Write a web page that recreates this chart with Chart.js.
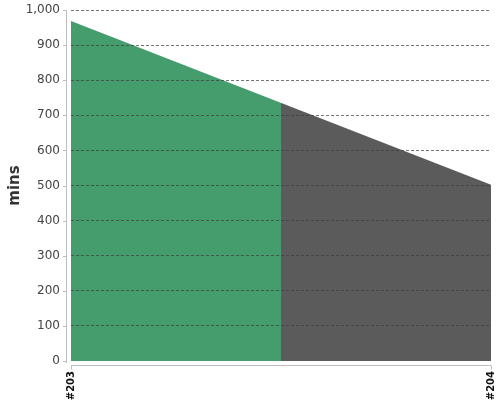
<!DOCTYPE html>
<html>
<head>
<meta charset="utf-8">
<style>
  html, body { margin: 0; padding: 0; background: #fff; }
  #wrap { width: 500px; height: 400px; }
</style>
<script src="https://cdn.jsdelivr.net/npm/chart.js@4/dist/chart.umd.min.js"></script>
</head>
<body>
<div id="wrap"><canvas id="areaChart"></canvas></div>
<script>
// Build labels along the x axis
const buildLabels = ['#203', '#204'];

// Build duration in minutes
const buildMinutes = [969, 502];

// Fill colours, left half / right half
const fillColors = ['#459c6c', '#5b5b5b'];

// Split the fill colour at the middle of the plot
function splitFill(context) {
    const chart = context.chart;
    const area = chart.chartArea;
    if (!area) return fillColors[0];
    const g = chart.ctx.createLinearGradient(area.left, 0, area.right, 0);
    g.addColorStop(0, fillColors[0]);
    g.addColorStop(0.5, fillColors[0]);
    g.addColorStop(0.5, fillColors[1]);
    g.addColorStop(1, fillColors[1]);
    return g;
}

// Axis lines sit a few pixels away from the plot, like the original
const axisFrame = {
    id: 'axisFrame',
    afterDraw(chart) {
        const ctx = chart.ctx;
        const area = chart.chartArea;
        const xs = chart.scales.x;
        const ys = chart.scales.y;
        ctx.save();
        ctx.strokeStyle = '#bdbdbd';
        ctx.lineWidth = 1;
        ctx.beginPath();
        // y axis line + ticks
        ctx.moveTo(area.left - 4.5, area.top);
        ctx.lineTo(area.left - 4.5, area.bottom + 2);
        ys.ticks.forEach((t, i) => {
            const py = Math.round(ys.getPixelForTick(i)) + 0.5;
            ctx.moveTo(area.left - 8, py);
            ctx.lineTo(area.left - 4, py);
        });
        // x axis line + ticks
        const by = area.bottom + 4.5;
        ctx.moveTo(area.left, by);
        ctx.lineTo(area.right, by);
        xs.ticks.forEach((t, i) => {
            const px = Math.round(xs.getPixelForTick(i)) + 0.5;
            ctx.moveTo(px, by);
            ctx.lineTo(px, by + 4);
        });
        ctx.stroke();
        ctx.restore();
    }
};

const ctx = document.getElementById('areaChart').getContext('2d');
const areaChart = new Chart(ctx, {
    type: 'line',
    data: {
        labels: buildLabels,
        datasets: [{
            label: 'mins',
            data: buildMinutes,
            fill: 'origin',
            backgroundColor: splitFill,
            borderWidth: 0,
            pointRadius: 0,
            tension: 0,
        }],
    },
    options: {
        responsive: true,
        maintainAspectRatio: false,
        animation: false,
        layout: { padding: { top: 10, right: 9, bottom: 0, left: 0 } },
        plugins: {
            legend: { display: false },
            tooltip: { enabled: false },
        },
        scales: {
            x: {
                grid: { display: false, drawTicks: false },
                border: { display: false },
                ticks: {
                    padding: 10,
                    minRotation: 90,
                    maxRotation: 90,
                    color: '#111',
                    font: { family: 'DejaVu Sans', size: 10, weight: 'bold' },
                },
                afterFit(scale) {
                    scale.height = 39;
                    scale.paddingLeft = 0;
                    scale.paddingRight = 0;
                },
            },
            y: {
                min: 0,
                max: 1000,
                grid: {
                    z: 1, // dashed grid drawn over the fill
                    color: (c) => (c.tick && c.tick.value === 0 ? 'rgba(0,0,0,0)' : 'rgba(60,60,60,0.7)'),
                    drawTicks: false,
                },
                border: { display: false, dash: [3, 2] },
                ticks: {
                    stepSize: 100,
                    padding: 11,
                    color: '#444',
                    font: { family: 'DejaVu Sans', size: 12 },
                    callback: (v) => v.toLocaleString('en-US'),
                },
                title: {
                    display: true,
                    text: 'mins',
                    color: '#333',
                    padding: { top: 6, bottom: 0 },
                    font: { family: 'DejaVu Sans', size: 15, weight: 'bold' },
                },
                afterFit(scale) {
                    scale.width = 71;
                    scale.paddingTop = 0;
                    scale.paddingBottom = 0;
                },
            },
        },
    },
    plugins: [axisFrame],
});
</script>
</body>
</html>
